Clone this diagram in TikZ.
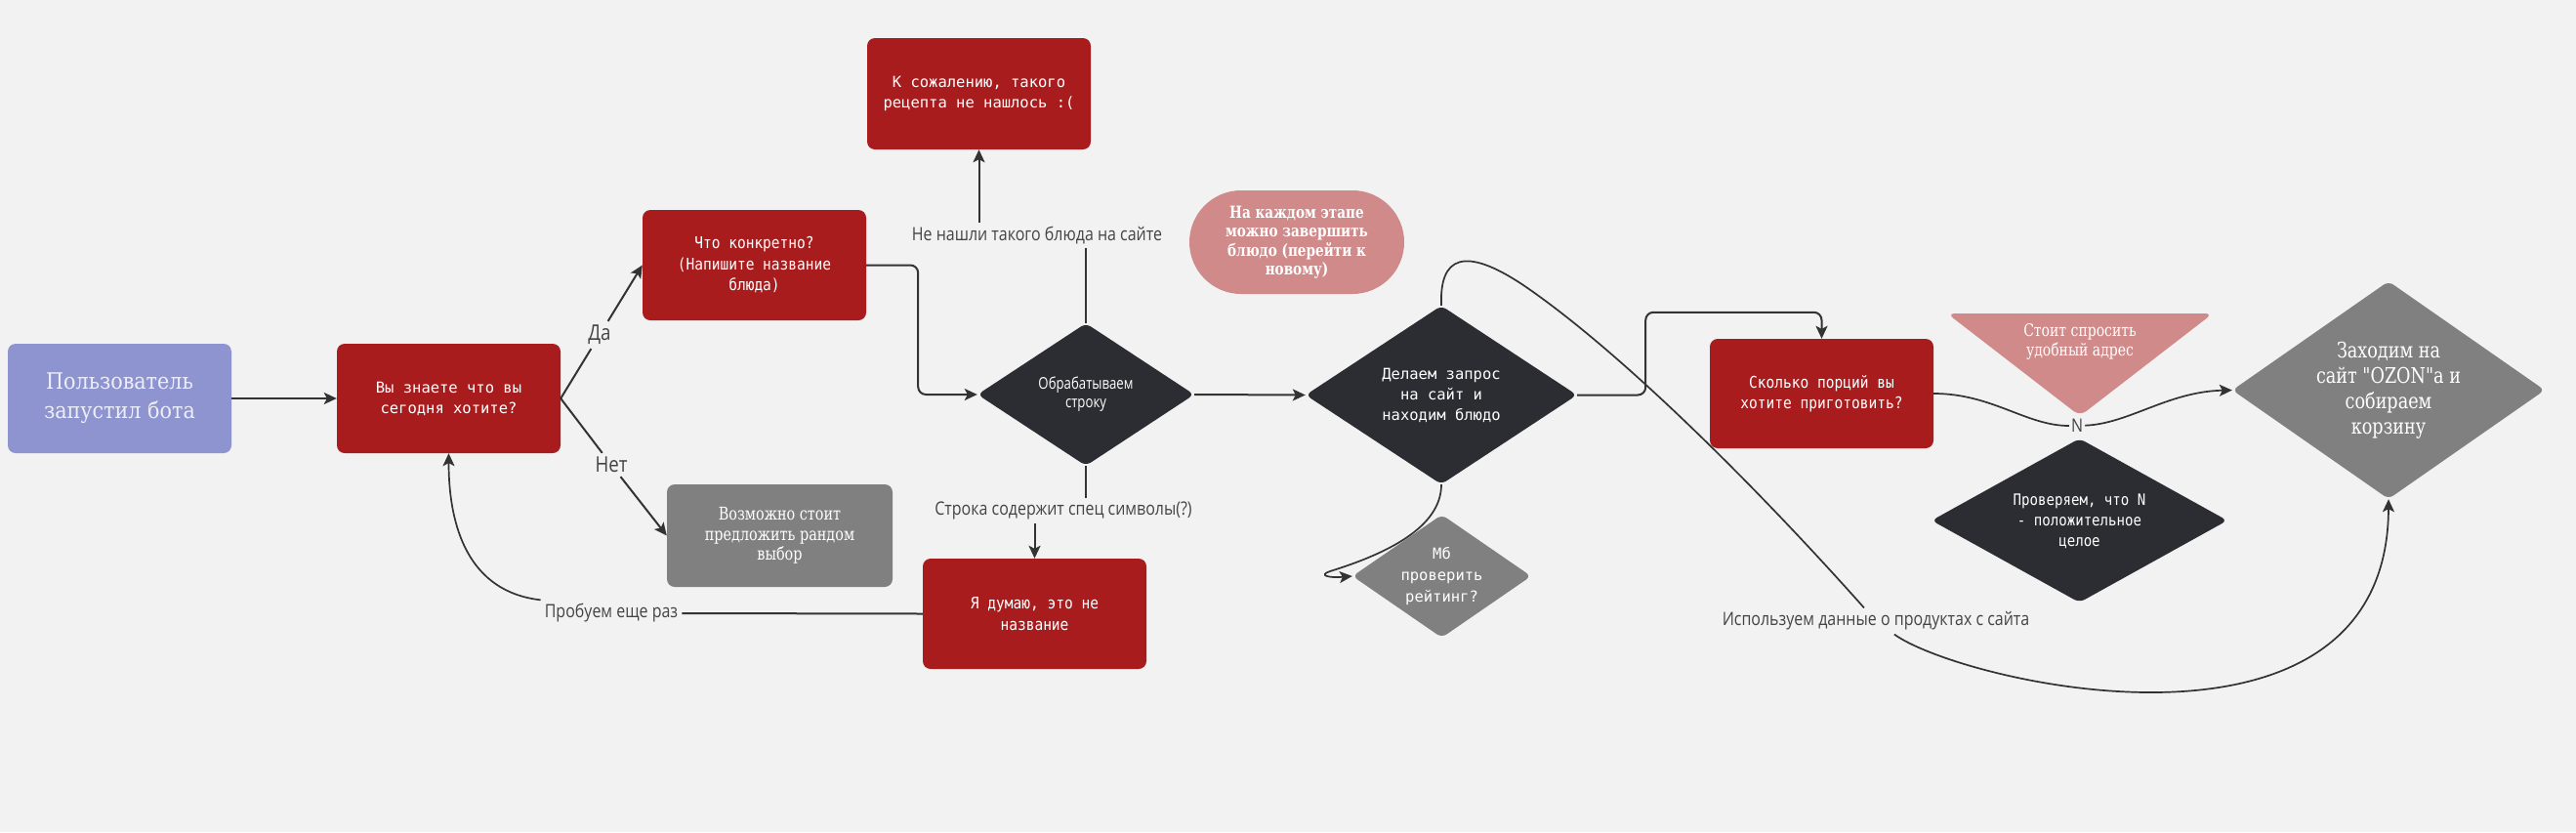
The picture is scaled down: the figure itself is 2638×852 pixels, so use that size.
\documentclass[tikz,border=0pt]{standalone}
\usepackage{fontspec}
\usetikzlibrary{shapes.geometric,arrows.meta,calc}
\setmainfont{DejaVu Serif}
\newfontfamily\slab[FakeStretch=0.9]{DejaVu Serif}
\newfontfamily\slabc[FakeStretch=0.8,Ligatures=TeXOff]{DejaVu Serif}
\newfontfamily\monof{DejaVu Sans Mono}
\newfontfamily\monoc[FakeStretch=0.88]{DejaVu Sans Mono}
\newfontfamily\lblf[FakeStretch=0.85]{Open Sans}
\newfontfamily\condsans[FakeStretch=0.8]{Open Sans}
\definecolor{cbg}{HTML}{F2F2F2}
\definecolor{clav}{HTML}{8E94D0}
\definecolor{cuser}{HTML}{EEEEF6}
\definecolor{cred}{HTML}{A81C1E}
\definecolor{cdark}{HTML}{2C2D32}
\definecolor{cgray}{HTML}{808080}
\definecolor{cpink}{HTML}{D08A8A}
\definecolor{cline}{HTML}{333333}
\definecolor{clabel}{HTML}{444444}
\begin{document}
\begin{tikzpicture}[x=1pt,y=-1pt,
  box/.style={rectangle, rounded corners=8pt, minimum width=229pt, minimum height=112pt, inner sep=0pt, align=center, text=white},
  redbox/.style={box, fill=cred, font={\monof\fontsize{15.5}{21}\selectfont}},
  redboxc/.style={box, fill=cred, font={\monoc\fontsize{16.5}{21.5}\selectfont}},
  dia/.style={diamond, rounded corners=6pt, inner sep=0pt, aspect=1.5},
  diatext/.style={align=center, text=white, inner sep=0pt},
  lbl/.style={font={\lblf\fontsize{18.8}{22}\selectfont}, text=clabel, inner sep=4pt},
  conn/.style={draw=cline, line width=2pt},
  connt/.style={draw=cline, line width=1.7pt},
  arr/.style={conn, -{Stealth[length=13pt,width=12pt,inset=3pt]}},
  arrt/.style={connt, -{Stealth[length=13pt,width=12pt,inset=3pt]}}
]
\useasboundingbox (0,0) rectangle (2638,852);
\fill[cbg] (0,0) rectangle (2638,852);

% boxes
\node[box, fill=clav, text=cuser, font={\slab\fontsize{23}{30}\selectfont}] (user) at (122.5,408) {Пользователь\\запустил бота};
\node[redbox] (q1) at (459.5,408) {Вы знаете что вы\\сегодня хотите?};
\node[redboxc, minimum height=113pt] (what) at (772.5,271.5) {Что конкретно?\\(Напишите название\\блюда)};
\node[box, fill=cgray, minimum width=231pt, minimum height=105pt, font={\slabc\fontsize{18}{20.5}\selectfont}] (random) at (798.5,548.5) {Возможно стоит\\предложить рандом\\выбор};
\node[redbox, minimum height=114pt] (sorry) at (1002.5,96) {К сожалению, такого\\рецепта не нашлось :(};
\node[redboxc, minimum height=113pt] (notname) at (1059.5,628.5) {Я думаю, это не\\название};
\node[redboxc] (portions) at (1865.5,403) {Сколько порций вы\\хотите приготовить?};
\node[fill=cpink, rounded corners=53pt, minimum width=220pt, minimum height=106pt, inner sep=0pt, align=center, text=white, font={\bfseries\slabc\fontsize{17}{19.5}\selectfont}] (pill) at (1328,248) {На каждом этапе\\можно завершить\\блюдо (перейти к\\новому)};

% diamonds
\node[dia, fill=cdark, minimum width=222pt, minimum height=146pt] (proc) at (1112,404) {};
\node[diatext, font={\condsans\fontsize{16.5}{19}\selectfont}] (proct) at (proc.center) {Обрабатываем\\строку};
\node[dia, fill=cdark, minimum width=278pt, minimum height=183pt] (req) at (1476,404.5) {};
\node[diatext, font={\monof\fontsize{15.5}{21}\selectfont}] (reqt) at (req.center) {Делаем запрос\\на сайт и\\находим блюдо};
\node[dia, fill=cgray, minimum width=183pt, minimum height=126pt] (rating) at (1476.5,590) {};
\node[diatext, font={\monof\fontsize{15.5}{22}\selectfont}] (ratingt) at (rating.center) {Мб\\проверить\\рейтинг?};
\node[dia, fill=cdark, minimum width=303pt, minimum height=168pt] (check) at (2129.5,533) {};
\node[diatext, font={\monoc\fontsize{16}{21}\selectfont}] (checkt) at (2129.5,534) {Проверяем, что N\\- положительное\\целое};
\node[dia, fill=cgray, minimum width=320pt, minimum height=223pt] (ozon) at (2446,399.5) {};
\node[diatext, font={\slabc\fontsize{22}{26}\selectfont}] (ozont) at (2446,400) {Заходим на\\сайт "OZON"а и\\собираем\\корзину};

% triangle
\fill[cpink, rounded corners=8pt] (1994,321) -- (2266,321) -- (2130,426) -- cycle;
\node[diatext, font={\slabc\fontsize{17.5}{20}\selectfont}] (ask) at (2130,350) {Стоит спросить\\удобный адрес};

% labels
\node[lbl, font={\lblf\fontsize{22}{24}\selectfont}] (lda) at (614,343) {Да};
\node[lbl, font={\lblf\fontsize{22}{24}\selectfont}] (lnet) at (626,476) {Нет};
\node[lbl] (lnf) at (1062,241) {Не нашли такого блюда на сайте};
\node[lbl] (lspec) at (1089,523) {Строка содержит спец символы(?)};
\node[lbl] (ltry) at (626,628) {Пробуем еще раз};
\node[lbl] (luse) at (1921,636) {Используем данные о продуктах с сайта};
\node[lbl, inner sep=2pt] (ln) at (2127,436) {N};

% connectors
\draw[arr] (user) -- (q1);
\draw[conn] (q1.east) -- (lda);
\draw[arr] (lda) -- (what.west);
\draw[conn] (q1.east) -- (lnet);
\draw[arr] (lnet) -- (random.west);
\draw[arr, rounded corners=8pt] (what.east) -- ++(53,0) |- (proc.west);
\draw[conn] (proc.north) -- (proc.north |- lnf.south);
\draw[arr] (lnf.north -| sorry.south) -- (sorry.south);
\draw[conn] (proc.south) -- (proc.south |- lspec.north);
\draw[arr] (lspec.south -| notname.north) -- (notname.north);
\draw[conn] (notname.west) -- (ltry.east);
\draw[arrt] (ltry.north west) .. controls (480,606) and (459.5,540) .. (q1.south);
\draw[arr] (proc.east) -- (req.west);
\draw[arr, rounded corners=8pt] (req.east) -- ++(70,0) |- ($(portions.north)+(0,-27)$) -- (portions.north);
\draw[connt] (req.north) .. controls (1474,262) and (1500,252) .. (1560,292) .. controls (1660,360) and (1800,500) .. (luse);
\draw[arrt] (luse) .. controls (2010,700) and (2445,800) .. (ozon.south);
\draw[arrt] (req.south) .. controls (1476,540) and (1420,567) .. (1362,585) .. controls (1350,589) and (1360,592) .. (rating.west);
\draw[connt] (portions.east) .. controls (2040,403) and (2075,436) .. (ln);
\draw[arrt] (ln) .. controls (2180,434) and (2220,401) .. (ozon.west);
\end{tikzpicture}
\end{document}
